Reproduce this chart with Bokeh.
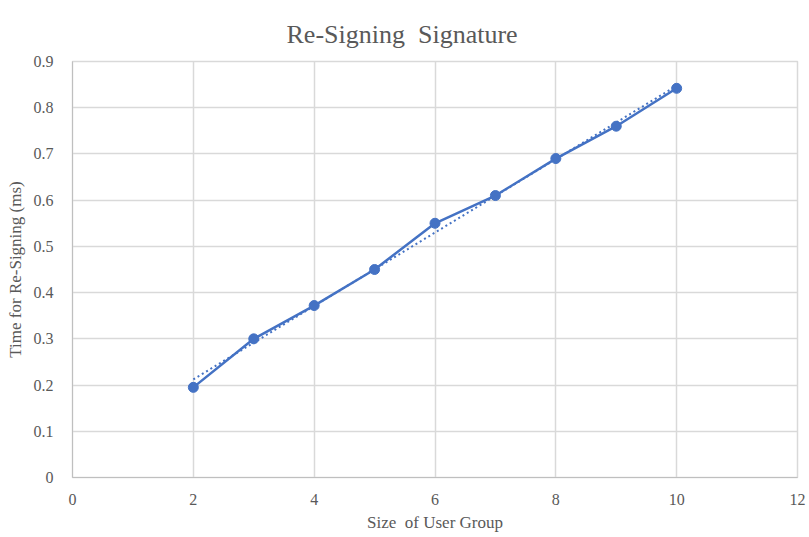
from bokeh.plotting import figure
from bokeh.models import Range1d, FixedTicker
from bokeh.embed import file_html
from bokeh.resources import INLINE
import numpy as np

group_size = [2, 3, 4, 5, 6, 7, 8, 9, 10]
resign_time = [0.195, 0.30, 0.372, 0.45, 0.55, 0.61, 0.69, 0.76, 0.842]
x_ticks = [0, 2, 4, 6, 8, 10, 12]
y_ticks = [0, 0.1, 0.2, 0.3, 0.4, 0.5, 0.6, 0.7, 0.8, 0.9]

# linear trend line (least squares fit, as a spreadsheet trendline)
slope, intercept = np.polyfit(group_size, resign_time, 1)
trend_x = [group_size[0], group_size[-1]]
trend_y = [slope * v + intercept for v in trend_x]

FONT = "Liberation Serif"
TXT = "#595959"
BLUE = "#4472C4"

p = figure(width=809, height=537, output_backend="svg", toolbar_location=None,
           x_range=Range1d(0, 12), y_range=Range1d(0, 0.9),
           min_border_left=72, min_border_right=12, min_border_top=61, min_border_bottom=60)

p.title.text = "Re-Signing\u00a0\u00a0Signature"
p.title.align = "left"
p.title.text_font = FONT
p.title.text_font_size = "26px"
p.title.text_font_style = "normal"
p.title.text_color = TXT
p.title.offset = 214
p.title.standoff = 25

p.line(trend_x, trend_y, line_color=BLUE, line_width=2, line_dash="2 3")
p.line(group_size, resign_time, line_color=BLUE, line_width=2.5)
p.scatter(group_size, resign_time, size=10, fill_color=BLUE, line_color=BLUE)

for ax in (p.xaxis[0], p.yaxis[0]):
    ax.axis_line_color = "#BFBFBF"
    ax.axis_line_width = 1
    ax.major_tick_line_color = None
    ax.minor_tick_line_color = None
    ax.major_label_text_font = FONT
    ax.major_label_text_font_size = "16px"
    ax.major_label_text_color = TXT
    ax.axis_label_text_font = FONT
    ax.axis_label_text_font_size = "17px"
    ax.axis_label_text_font_style = "normal"
    ax.axis_label_text_color = TXT

p.xaxis.ticker = FixedTicker(ticks=x_ticks)
p.yaxis.ticker = FixedTicker(ticks=y_ticks)
p.xaxis.axis_label = "Size\u00a0\u00a0of User Group"
p.yaxis.axis_label = "Time for Re-Signing (ms)"
p.xaxis.major_label_standoff = 10
p.yaxis.major_label_standoff = 13
p.xaxis.axis_label_standoff = 5
p.yaxis.axis_label_standoff = 6

p.xgrid.grid_line_color = "#D9D9D9"
p.ygrid.grid_line_color = "#D9D9D9"
p.xgrid.grid_line_width = 1.5
p.ygrid.grid_line_width = 1.5
p.outline_line_color = "#D9D9D9"
p.outline_line_width = 1.5

open("out.html", "w").write(file_html(p, INLINE))
